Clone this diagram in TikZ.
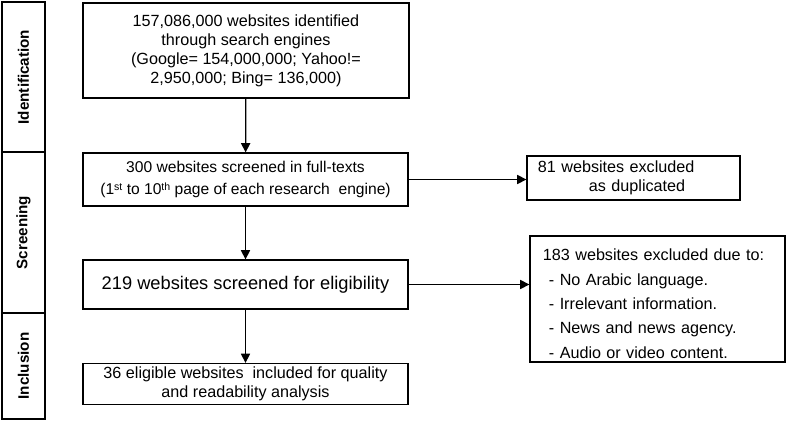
\documentclass[tikz,border=0pt]{standalone}
\usepackage{fontspec}
\setmainfont{Liberation Sans}
\usetikzlibrary{arrows.meta}
\newcommand{\sups}[1]{{\fontsize{7.5}{8}\selectfont\raisebox{0.75ex}{#1}}}
\tikzset{
  box/.style={draw,align=center,inner sep=0pt,font=\fontsize{11.5}{13.5}\selectfont},
  sidebox/.style={draw,rotate=90,minimum height=1.075cm,font=\fontsize{10.8}{12}\selectfont\bfseries},
  arr/.style={-{Triangle[length=6.5pt,width=6.5pt]}}
}
\begin{document}
\begin{tikzpicture}[x=0.025cm,y=-0.025cm,line width=0.9pt]
  \useasboundingbox (0,0) rectangle (787,421);
  %fasi
  \node[sidebox,minimum width=3.75cm] (ident) at (23.5,77) {Identification};
  \node[sidebox,minimum width=4.025cm] (screen) at (23.5,232.5) {Screening};
  \node[sidebox,minimum width=2.65cm] (incl) at (23.5,366) {Inclusion};
  %blocchi
  \node[box,minimum width=8.15cm,minimum height=2.375cm] (found) at (246,50.5)
    {157,086,000 websites identified\\through search engines\\(Google= 154,000,000; Yahoo!=\\2,950,000; Bing= 136,000)};
  \node[box,minimum width=8.125cm,minimum height=1.325cm,font=\fontsize{11.1}{15.5}\selectfont] (full) at (245.5,179.5)
    {300 websites screened in full-texts\\(1\sups{st} to 10\sups{th} page of each research~ engine)};
  \node[box,minimum width=8.125cm,minimum height=1.225cm,font=\fontsize{13}{15}\selectfont] (elig) at (245.5,284.5)
    {219 websites screened for eligibility};
  \node[box,minimum width=8.125cm,minimum height=1.025cm] (incl36) at (245.5,384)
    {36 eligible websites~ included for quality\\and readability analysis};
  %esclusi
  \node[box,align=left,inner xsep=0.275cm,text width=4.775cm,minimum height=1.1cm] (dup) at (633.5,178)
    {81 websites excluded\\\hspace*{1.275cm}as duplicated};
  \node[box,align=left,inner xsep=0.325cm,text width=5.725cm,minimum height=3.15cm,font=\fontsize{11.5}{17.4}\selectfont] (excl) at (657.5,299)
    {\rule{0pt}{15pt}183 websites excluded due to:\\
     \hspace*{0.15cm}- No Arabic language.\\
     \hspace*{0.15cm}- Irrelevant information.\\
     \hspace*{0.15cm}- News and news agency.\\
     \hspace*{0.15cm}- Audio or video content.};
  %frecce
  \draw[arr] (found) -- (full);
  \draw[arr] (full) -- (elig);
  \draw[arr] (elig) -- (incl36);
  \draw[arr] (full.east) -- (full.east -| dup.west);
  \draw[arr] (elig.east) -- (elig.east -| excl.west);
\end{tikzpicture}
\end{document}
